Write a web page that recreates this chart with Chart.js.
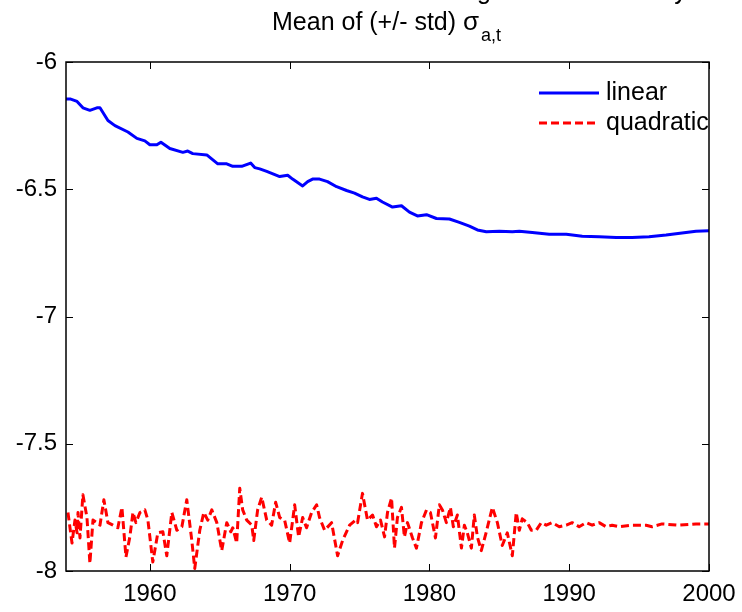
<!DOCTYPE html>
<html>
<head>
<meta charset="utf-8">
<script src="https://cdn.jsdelivr.net/npm/chart.js@4/dist/chart.umd.min.js"></script>
<style>
  html, body { margin: 0; padding: 0; background: #ffffff; }
  #wrap { width: 742px; height: 612px; }
</style>
</head>
<body>
<div id="wrap"><canvas id="c" width="742" height="612"></canvas></div>
<script>
// Posterior mean of the log shock volatility, two trend specifications
const linearYears = [1954.00, 1954.29, 1954.79, 1955.21, 1955.71, 1956.21, 1956.43, 1957.00, 1957.50, 1958.43,
  1959.07, 1959.64, 1960.00, 1960.50, 1960.79, 1961.43, 1962.36, 1962.71, 1963.07, 1964.07,
  1964.86, 1965.50, 1965.93, 1966.57, 1967.21, 1967.50, 1967.86, 1968.36, 1969.29, 1969.86,
  1970.21, 1970.93, 1971.29, 1971.64, 1972.14, 1972.71, 1973.36, 1974.07, 1974.64, 1975.21,
  1975.71, 1976.21, 1976.64, 1977.36, 1978.00, 1978.57, 1979.14, 1979.79, 1980.50, 1981.43,
  1982.14, 1982.86, 1983.43, 1984.07, 1985.00, 1985.93, 1986.43, 1987.36, 1988.57, 1989.79,
  1990.93, 1992.14, 1993.36, 1994.50, 1995.71, 1996.93, 1998.07, 1999.07, 2000.00];
const linearValues = [-6.145, -6.145, -6.155, -6.18, -6.19, -6.18, -6.18, -6.23, -6.25, -6.275,
  -6.30, -6.31, -6.325, -6.325, -6.315, -6.34, -6.355, -6.35, -6.36, -6.365,
  -6.40, -6.40, -6.41, -6.41, -6.397, -6.415, -6.42, -6.43, -6.45, -6.445,
  -6.46, -6.487, -6.47, -6.46, -6.46, -6.47, -6.49, -6.505, -6.515, -6.53,
  -6.54, -6.535, -6.55, -6.57, -6.565, -6.59, -6.605, -6.60, -6.615, -6.617,
  -6.63, -6.645, -6.66, -6.667, -6.665, -6.667, -6.665, -6.67, -6.677, -6.677,
  -6.685, -6.687, -6.69, -6.69, -6.687, -6.68, -6.672, -6.665, -6.663];

const quadYears = [1954.14, 1954.43, 1954.64, 1954.79, 1954.86, 1955.00, 1955.21, 1955.50, 1955.71, 1955.93,
  1956.21, 1956.43, 1956.71, 1957.00, 1957.36, 1957.71, 1958.00, 1958.29, 1958.57, 1958.79,
  1959.00, 1959.29, 1959.64, 1959.86, 1960.21, 1960.57, 1960.93, 1961.21, 1961.57, 1961.93,
  1962.29, 1962.64, 1963.00, 1963.21, 1963.57, 1963.86, 1964.14, 1964.43, 1964.79, 1965.14,
  1965.50, 1965.79, 1965.93, 1966.21, 1966.43, 1966.64, 1966.93, 1967.29, 1967.43, 1967.71,
  1968.00, 1968.36, 1968.71, 1969.00, 1969.29, 1969.64, 1970.00, 1970.36, 1970.64, 1970.93,
  1971.21, 1971.57, 1971.93, 1972.14, 1972.50, 1973.00, 1973.43, 1973.79, 1974.29, 1974.71,
  1974.86, 1975.21, 1975.57, 1975.93, 1976.21, 1976.50, 1976.79, 1977.00, 1977.29, 1977.50,
  1977.71, 1978.00, 1978.21, 1978.43, 1978.79, 1979.07, 1979.43, 1979.79, 1980.07, 1980.43,
  1980.71, 1980.93, 1981.21, 1981.50, 1981.71, 1982.00, 1982.29, 1982.50, 1982.71, 1983.00,
  1983.21, 1983.43, 1983.71, 1984.07, 1984.50, 1984.86, 1985.21, 1985.57, 1985.93, 1986.21,
  1986.43, 1986.64, 1987.00, 1987.29, 1987.64, 1988.00, 1988.36, 1988.79, 1989.29, 1989.79,
  1990.21, 1990.71, 1991.21, 1991.64, 1992.14, 1992.64, 1993.07, 1993.57, 1994.50, 1995.50,
  1995.93, 1996.64, 1997.86, 1999.07, 2000.00];
const quadValues = [-7.77, -7.89, -7.80, -7.85, -7.77, -7.87, -7.70, -7.79, -7.97, -7.80,
  -7.81, -7.82, -7.72, -7.81, -7.82, -7.83, -7.75, -7.945, -7.865, -7.77,
  -7.81, -7.77, -7.76, -7.80, -7.965, -7.85, -7.846, -7.94, -7.77, -7.84,
  -7.826, -7.72, -7.88, -7.99, -7.84, -7.77, -7.80, -7.76, -7.81, -7.92,
  -7.81, -7.846, -7.83, -7.89, -7.675, -7.76, -7.80, -7.82, -7.88, -7.76,
  -7.71, -7.80, -7.82, -7.73, -7.79, -7.80, -7.89, -7.74, -7.866, -7.79,
  -7.83, -7.77, -7.74, -7.79, -7.84, -7.81, -7.94, -7.88, -7.82, -7.80,
  -7.81, -7.695, -7.80, -7.78, -7.826, -7.80, -7.866, -7.77, -7.713, -7.91,
  -7.79, -7.75, -7.866, -7.81, -7.87, -7.91, -7.81, -7.76, -7.77, -7.87,
  -7.74, -7.76, -7.81, -7.75, -7.826, -7.78, -7.91, -7.82, -7.85, -7.91,
  -7.78, -7.866, -7.92, -7.846, -7.75, -7.81, -7.90, -7.85, -7.94, -7.77,
  -7.84, -7.795, -7.81, -7.84, -7.84, -7.81, -7.82, -7.81, -7.826, -7.82,
  -7.81, -7.826, -7.81, -7.82, -7.81, -7.826, -7.82, -7.826, -7.82, -7.82,
  -7.826, -7.815, -7.82, -7.815, -7.815];

const seriesNames = ['linear', 'quadratic'];
const xTickValues = [1960, 1970, 1980, 1990, 2000];
const yTickValues = [-8, -7.5, -7, -6.5, -6];
const titleLines = ['Smoothed estimate of the log of shock volatility', 'Mean of (+/- std) '];
const titleSymbol = 'σ';
const titleSub = 'a,t';

const FONT = "'Liberation Sans', Arial, Helvetica, sans-serif";

function toPoints(xs, ys) { return xs.map((x, i) => ({ x: x, y: ys[i] })); }

// Box, inward tick marks, title and legend drawn on top of the plot
const frameAndText = {
  id: 'frameAndText',
  afterDraw(chart) {
    const ctx = chart.ctx;
    const a = chart.chartArea;
    const xs = chart.scales.x, ys = chart.scales.y;
    const tl = 7;
    ctx.save();
    ctx.strokeStyle = '#000';
    ctx.lineWidth = 1.5;
    ctx.strokeRect(a.left, a.top, a.right - a.left, a.bottom - a.top);
    ctx.beginPath();
    xTickValues.forEach(v => {
      const px = Math.round(xs.getPixelForValue(v)) + 0.5;
      ctx.moveTo(px, a.bottom); ctx.lineTo(px, a.bottom - tl);
      ctx.moveTo(px, a.top); ctx.lineTo(px, a.top + tl);
    });
    yTickValues.forEach(v => {
      const py = Math.round(ys.getPixelForValue(v)) + 0.5;
      ctx.moveTo(a.left, py); ctx.lineTo(a.left + tl, py);
      ctx.moveTo(a.right, py); ctx.lineTo(a.right - tl, py);
    });
    ctx.lineWidth = 1;
    ctx.stroke();

    // title
    ctx.fillStyle = '#000';
    ctx.textAlign = 'left';
    ctx.textBaseline = 'alphabetic';
    ctx.font = '25px ' + FONT;
    const lead = 'Smoothed estimate of the lo';
    ctx.fillText(titleLines[0], 477 - ctx.measureText(lead).width, -1);
    let tx = 272;
    ctx.fillText(titleLines[1], tx, 30);
    tx += ctx.measureText(titleLines[1]).width;
    ctx.font = '26px ' + FONT;
    ctx.fillText(titleSymbol, tx, 30);
    tx += ctx.measureText(titleSymbol).width + 2;
    ctx.font = '18px ' + FONT;
    ctx.fillText(titleSub, tx, 41);

    // legend, clipped to the axes box
    ctx.save();
    ctx.beginPath();
    ctx.rect(a.left, a.top, a.right - a.left, a.bottom - a.top);
    ctx.clip();
    ctx.font = '25px ' + FONT;
    ctx.textBaseline = 'middle';
    chart.data.datasets.forEach((ds, i) => {
      const y = 93 + i * 30;
      ctx.strokeStyle = ds.borderColor;
      ctx.lineWidth = ds.borderWidth;
      ctx.setLineDash(ds.borderDash || []);
      ctx.beginPath();
      ctx.moveTo(539, y); ctx.lineTo(599, y);
      ctx.stroke();
      ctx.setLineDash([]);
      ctx.fillStyle = '#000';
      ctx.fillText(ds.label, 606, y);
    });
    ctx.restore();
    ctx.restore();
  }
};

new Chart(document.getElementById('c'), {
  type: 'line',
  data: {
    datasets: [
      { label: seriesNames[0], data: toPoints(linearYears, linearValues),
        borderColor: '#0000ff', borderWidth: 3, borderJoinStyle: 'round',
        pointRadius: 0, tension: 0, fill: false },
      { label: seriesNames[1], data: toPoints(quadYears, quadValues),
        borderColor: '#ff0000', borderWidth: 3, borderDash: [8, 4], borderJoinStyle: 'round',
        pointRadius: 0, tension: 0, fill: false }
    ]
  },
  options: {
    responsive: false,
    animation: false,
    devicePixelRatio: 1,
    layout: { padding: { left: 0, right: 33, top: 62, bottom: 0 } },
    plugins: { legend: { display: false }, tooltip: { enabled: false }, title: { display: false } },
    scales: {
      x: {
        type: 'linear', position: 'bottom', min: 1954, max: 2000,
        afterBuildTicks: s => { s.ticks = xTickValues.map(v => ({ value: v })); },
        afterFit: s => { s.height = 41; },
        grid: { display: false }, border: { display: false },
        ticks: { color: '#000', font: { size: 24, family: FONT }, padding: 1, maxRotation: 0, autoSkip: false,
                 callback: v => String(v) }
      },
      y: {
        type: 'linear', position: 'left', min: -8, max: -6,
        afterBuildTicks: s => { s.ticks = yTickValues.map(v => ({ value: v })); },
        afterFit: s => { s.width = 66; },
        grid: { display: false }, border: { display: false },
        ticks: { color: '#000', font: { size: 24, family: FONT }, padding: 1, autoSkip: false,
                 callback: v => String(v) }
      }
    }
  },
  plugins: [frameAndText]
});
</script>
</body>
</html>
